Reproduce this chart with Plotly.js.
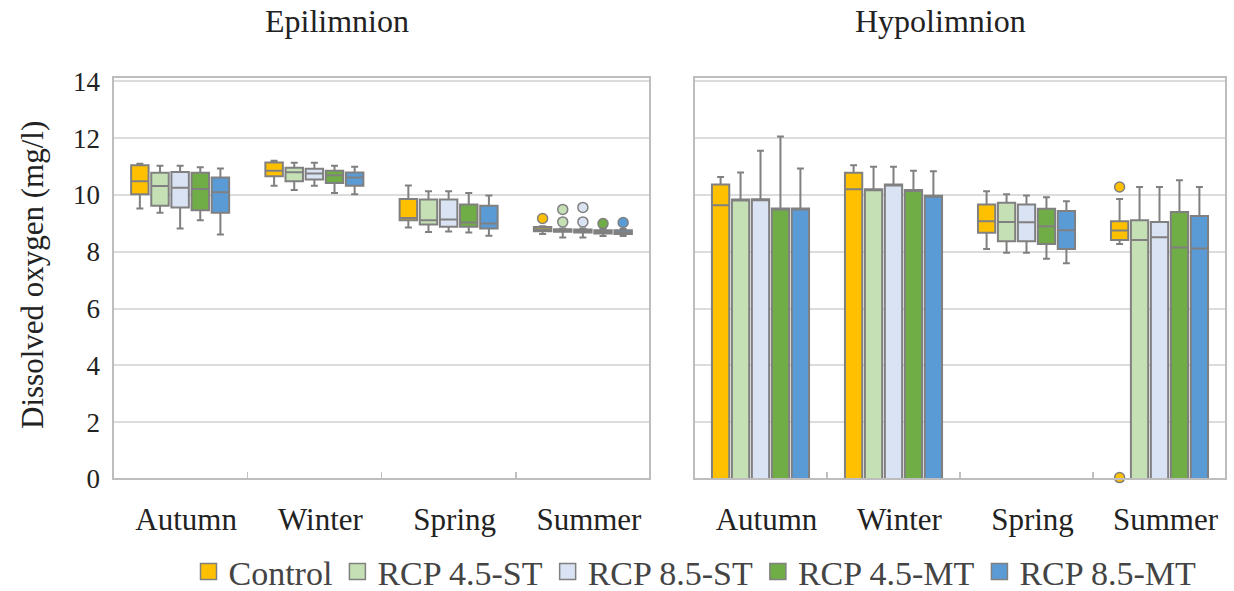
<!DOCTYPE html>
<html><head><meta charset="utf-8">
<script src="https://cdn.plot.ly/plotly-3.0.1.min.js"></script>
<style>html,body{margin:0;padding:0;background:#fff;overflow:hidden}#chart{width:1234px;height:601px}</style>
</head><body><div id="chart"></div>
<script>
const seasons = ['Autumn', 'Winter', 'Spring', 'Summer'];
const scenarios = ['Control', 'RCP 4.5-ST', 'RCP 8.5-ST', 'RCP 4.5-MT', 'RCP 8.5-MT'];
const colors = ['#FFC000', '#C5E0B4', '#DAE3F3', '#70AD47', '#5B9BD5'];
const yTicks = [0, 2, 4, 6, 8, 10, 12, 14];

// Epilimnion statistics, one row per scenario, one column per season
const epiLow = [
  [9.52, 10.32, 8.85, 8.62],
  [9.37, 10.17, 8.69, 8.50],
  [8.82, 10.32, 8.71, 8.50],
  [9.11, 10.07, 8.68, 8.55],
  [8.61, 10.02, 8.56, 8.55]];
const epiQ1 = [
  [10.02, 10.66, 9.11, 8.72],
  [9.62, 10.48, 8.96, 8.70],
  [9.56, 10.54, 8.88, 8.68],
  [9.46, 10.42, 8.88, 8.64],
  [9.37, 10.32, 8.82, 8.62]];
const epiMed = [
  [10.48, 10.85, 9.19, 8.79],
  [10.31, 10.80, 9.11, 8.74],
  [10.25, 10.75, 9.13, 8.72],
  [10.21, 10.69, 9.03, 8.70],
  [10.09, 10.61, 8.99, 8.68]];
const epiQ3 = [
  [11.04, 11.14, 9.86, 8.87],
  [10.78, 10.96, 9.84, 8.79],
  [10.81, 10.92, 9.84, 8.78],
  [10.78, 10.85, 9.66, 8.76],
  [10.61, 10.79, 9.62, 8.76]];
const epiHigh = [
  [11.10, 11.20, 10.33, 8.90],
  [11.03, 11.13, 10.13, 8.82],
  [11.03, 11.13, 10.13, 8.82],
  [10.97, 11.03, 10.07, 8.80],
  [10.93, 10.99, 9.98, 8.80]];
const epiOutScenario = [0, 1, 1, 2, 2, 3, 4];
const epiOutSeason = [3, 3, 3, 3, 3, 3, 3];
const epiOutValue = [9.17, 9.05, 9.49, 9.05, 9.56, 8.99, 9.03];

// Hypolimnion statistics
const hypLow = [
  [0, 0, 8.10, 8.27],
  [0, 0, 7.96, 0],
  [0, 0, 7.96, 0],
  [0, 0, 7.75, 0],
  [0, 0, 7.59, 0]];
const hypQ1 = [
  [0, 0, 8.67, 8.41],
  [0, 0, 8.37, 0],
  [0, 0, 8.37, 0],
  [0, 0, 8.27, 0],
  [0, 0, 8.10, 0]];
const hypMed = [
  [9.64, 10.20, 9.07, 8.75],
  [9.84, 10.20, 9.05, 8.41],
  [9.85, 10.37, 9.04, 8.51],
  [9.52, 10.17, 8.90, 8.15],
  [9.52, 9.97, 8.76, 8.11]];
const hypQ3 = [
  [10.37, 10.78, 9.66, 9.07],
  [9.84, 10.20, 9.72, 9.11],
  [9.85, 10.37, 9.66, 9.05],
  [9.52, 10.17, 9.51, 9.40],
  [9.52, 9.97, 9.43, 9.26]];
const hypHigh = [
  [10.63, 11.04, 10.13, 9.86],
  [10.79, 10.99, 10.02, 10.28],
  [11.55, 10.99, 9.98, 10.28],
  [12.06, 10.85, 9.92, 10.52],
  [10.93, 10.83, 9.78, 10.28]];
const hypOutScenario = [0, 0];
const hypOutSeason = [3, 3];
const hypOutValue = [10.28, 0.05];

const STEP = 0.15, BOXW = 0.13, GREY = '#808080';
const FONT = 'Liberation Serif, Times New Roman, serif';
const offset = i => (i - 2) * STEP;

const traces = [];
function addPanel(low, q1, med, q3, high, outS, outC, outV, xa, ya) {
  scenarios.forEach((name, i) => {
    traces.push({
      type: 'box', xaxis: xa, yaxis: ya, name: name, showlegend: false,
      x: seasons.map((s, k) => k + offset(i)),
      lowerfence: low[i], q1: q1[i], median: med[i], q3: q3[i], upperfence: high[i],
      width: BOXW, whiskerwidth: 0.4, boxpoints: false,
      fillcolor: colors[i], line: {color: GREY, width: 2}, hoverinfo: 'skip'
    });
  });
  traces.push({
    type: 'scatter', mode: 'markers', xaxis: xa, yaxis: ya, showlegend: false,
    x: outV.map((v, j) => outC[j] + offset(outS[j])), y: outV,
    marker: {size: 10, color: outS.map(s => colors[s]), line: {color: GREY, width: 1.5}},
    hoverinfo: 'skip', cliponaxis: false
  });
}
addPanel(epiLow, epiQ1, epiMed, epiQ3, epiHigh, epiOutScenario, epiOutSeason, epiOutValue, 'x', 'y');
addPanel(hypLow, hypQ1, hypMed, hypQ3, hypHigh, hypOutScenario, hypOutSeason, hypOutValue, 'x2', 'y2');

scenarios.forEach((name, i) => {
  traces.push({
    type: 'scatter', mode: 'markers', x: [null], y: [null], name: name,
    marker: {symbol: 'square', size: 20, color: colors[i], line: {color: GREY, width: 1.5}}
  });
});

// Figure is 10px taller than the 591px window so the legend can sit lower without pushing margins
const W = 1234, H = 601;
const yDom = [(H - 479) / H, (H - 77) / H];
const d1 = [113 / W, 650 / W], d2 = [694 / W, 1226 / W];
const catTicks = seasons.map((s, k) => k + 0.045);
const xBase = {
  range: [-0.5, 3.5], tickvals: catTicks, ticktext: seasons, showgrid: false, zeroline: false,
  showline: false, ticks: '', ticklabelstandoff: 19, automargin: false,
  tickfont: {family: FONT, size: 31, color: '#222'},
  minor: {tickvals: [-0.5, 0.5, 1.5, 2.5, 3.5], ticks: 'inside', ticklen: 7, tickwidth: 1.5, tickcolor: '#c0c0c0', showgrid: false}
};
const yBase = {
  range: [0, 14.15], tickvals: yTicks, showgrid: true, gridcolor: '#dcdcdc', gridwidth: 2,
  zeroline: false, showline: false, ticks: '', automargin: false, domain: yDom,
  tickfont: {family: FONT, size: 27, color: '#222'}
};
const frame = d => ({type: 'rect', xref: 'paper', yref: 'paper', x0: d[0], x1: d[1], y0: yDom[0], y1: yDom[1],
  line: {color: '#bdbdbd', width: 2}, layer: 'above'});

const layout = {
  width: W, height: H, margin: {l: 0, r: 0, t: 0, b: 0},
  paper_bgcolor: '#fff', plot_bgcolor: '#fff', boxmode: 'overlay',
  xaxis: Object.assign({}, xBase, {domain: d1, anchor: 'y'}),
  yaxis: Object.assign({}, yBase, {anchor: 'x', ticklabelstandoff: 12}),
  xaxis2: Object.assign({}, xBase, {domain: d2, anchor: 'y2'}),
  yaxis2: Object.assign({}, yBase, {anchor: 'x2', showticklabels: false}),
  shapes: [frame(d1), frame(d2)],
  annotations: [
    {text: 'Epilimnion', xref: 'paper', yref: 'paper', x: 337 / W, y: (H - 21) / H, showarrow: false,
     xanchor: 'center', yanchor: 'middle', font: {family: FONT, size: 32, color: '#222'}},
    {text: 'Hypolimnion', xref: 'paper', yref: 'paper', x: 940 / W, y: (H - 21) / H, showarrow: false,
     xanchor: 'center', yanchor: 'middle', font: {family: FONT, size: 32, color: '#222'}},
    {text: 'Dissolved oxygen (mg/l)', xref: 'paper', yref: 'paper', x: 32 / W, y: (H - 275) / H,
     xanchor: 'center', yanchor: 'middle',
     textangle: -90, showarrow: false, font: {family: FONT, size: 31, color: '#222'}}
  ],
  legend: {orientation: 'h', x: 695 / W, xanchor: 'center', y: 0, yanchor: 'bottom',
    font: {family: FONT, size: 34, color: '#444'}, bgcolor: 'rgba(0,0,0,0)'},
  showlegend: true
};
Plotly.newPlot('chart', traces, layout, {staticPlot: true});
</script>
</body></html>
